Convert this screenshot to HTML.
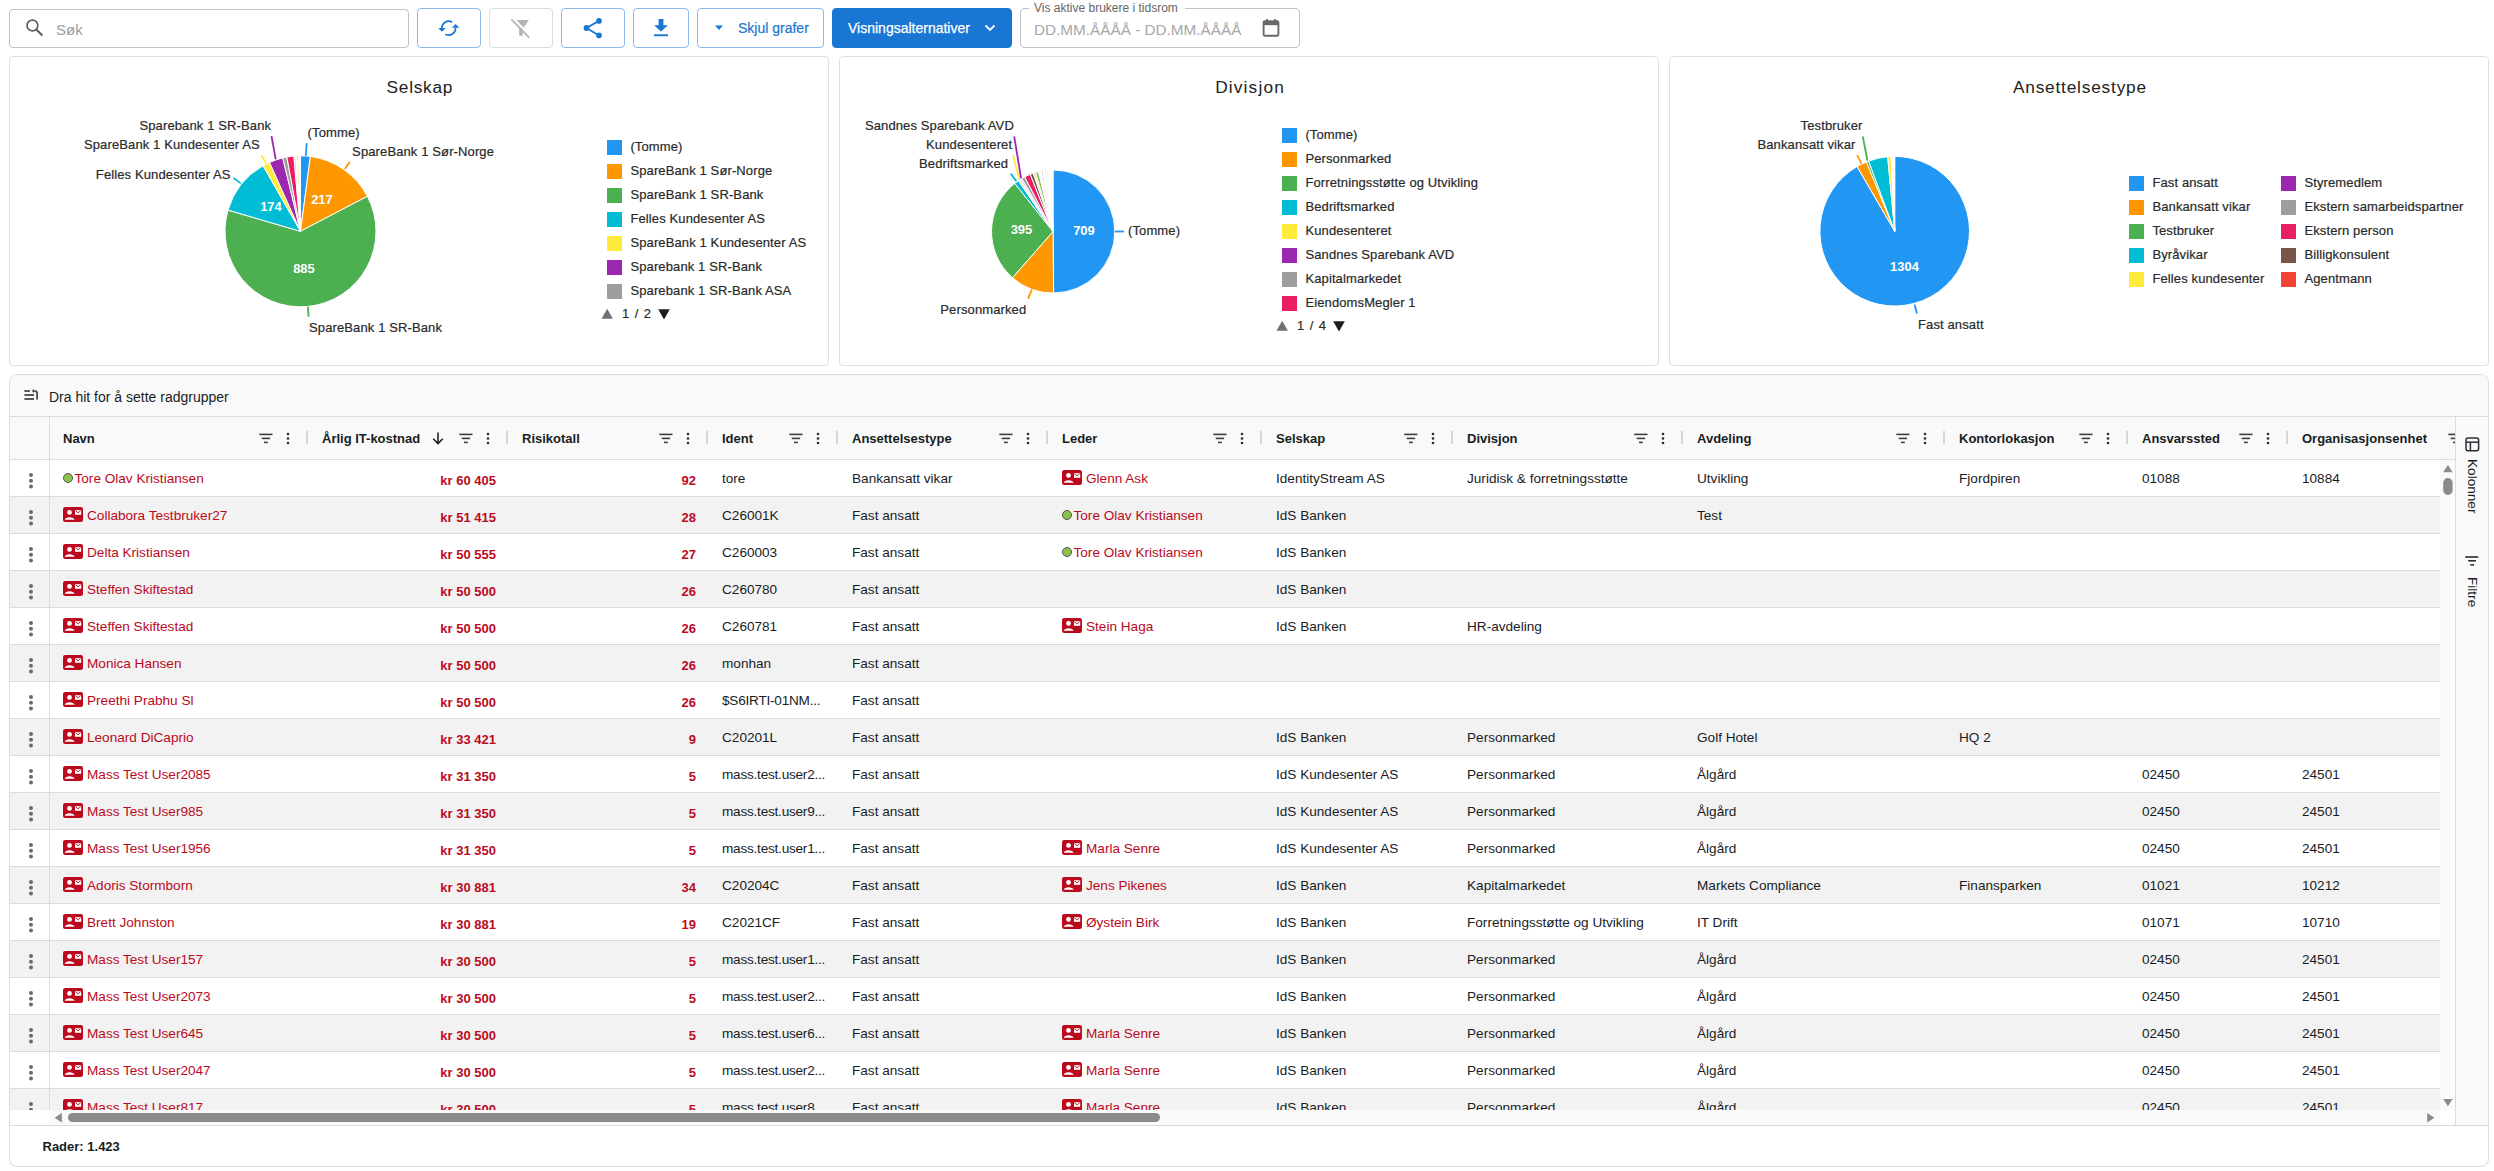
<!DOCTYPE html><html><head><meta charset="utf-8"><title>Brukere</title><style>
*{box-sizing:border-box}
html,body{margin:0;padding:0}
body{width:2494px;height:1171px;overflow:hidden;position:relative;background:#fff;font-family:"Liberation Sans", sans-serif;color:#1f1f1f}
.a{position:absolute}
.btn{position:absolute;top:8px;height:40px;border:1px solid #8cbae8;border-radius:4px;background:#fff}
.t{position:absolute;white-space:nowrap;line-height:1}
.card{position:absolute;top:56px;height:310px;width:820px;border:1px solid #e0e0e0;border-radius:4px;background:#fff}
.ct{position:absolute;white-space:nowrap;font-size:13px;letter-spacing:0.12px;color:#2a2a2a;line-height:1;-webkit-text-stroke:0.2px #2a2a2a}
.hd{position:absolute;top:417px;height:42px;line-height:43px;font-weight:bold;font-size:13px;color:#181d1f;white-space:nowrap}
.row{position:absolute;left:10px;width:2430px;height:37px;border-bottom:1px solid #dddddd}
.c{position:absolute;top:0;height:36px;line-height:37.2px;font-size:13.6px;white-space:nowrap;color:#181d1f}
.r{color:#bb0a1e}
.b{font-weight:bold;font-size:13px}
</style></head><body>
<div class="a" style="left:9px;top:9px;width:400px;height:39px;border:1px solid #c2c2c2;border-radius:4px"></div>
<svg class="a" style="left:24px;top:17px" width="22" height="22" viewBox="0 0 22 22"><circle cx="8.4" cy="8.5" r="5.4" fill="none" stroke="#5f5f5f" stroke-width="1.7"/><line x1="12.3" y1="12.4" x2="18.3" y2="18.4" stroke="#5f5f5f" stroke-width="2.1"/></svg>
<div class="t" style="left:56px;top:21.7px;font-size:15px;color:#9c9c9c">Søk</div>
<div class="btn" style="left:417px;width:64px"></div>
<svg class="a" style="left:437px;top:17px" width="24" height="22" viewBox="0 0 24 22">
<path d="M4.95 11.2 A6.75 6.75 0 0 1 15.1 5.2" fill="none" stroke="#1976d2" stroke-width="1.75"/>
<path d="M18.45 10.9 A6.75 6.75 0 0 1 8.3 17.2" fill="none" stroke="#1976d2" stroke-width="1.75"/>
<path d="M1.3 11.0 L8.6 11.0 L4.95 14.7 Z" fill="#1976d2"/>
<path d="M14.9 10.8 L22.4 10.8 L18.6 7.1 Z" fill="#1976d2"/>
</svg>
<div class="btn" style="left:489px;width:64px;border-color:#dcdcdc"></div>
<svg class="a" style="left:505px;top:14px" width="32" height="28" viewBox="0 0 32 28">
<path d="M11.2 6.1 L23.9 6.1 L18.7 13.4 Z" fill="#b5b5b5"/>
<path d="M14.1 13.2 L17.8 13.2 L17.8 20.7 Q17.8 21.7 16.8 21.7 L15.1 21.7 Q14.1 21.7 14.1 20.7 Z" fill="#b5b5b5"/>
<line x1="7.6" y1="4.3" x2="25.6" y2="22.8" stroke="#fff" stroke-width="1.6"/>
<line x1="6.3" y1="5.4" x2="24.2" y2="23.7" stroke="#b5b5b5" stroke-width="1.9"/>
</svg>
<div class="btn" style="left:561px;width:64px"></div>
<svg class="a" style="left:581px;top:16px" width="24" height="24" viewBox="0 0 24 24">
<line x1="5.5" y1="12" x2="18" y2="4.9" stroke="#1976d2" stroke-width="1.8"/>
<line x1="5.5" y1="12" x2="18" y2="19.4" stroke="#1976d2" stroke-width="1.8"/>
<circle cx="18" cy="4.9" r="2.8" fill="#1976d2"/><circle cx="5.5" cy="12" r="2.9" fill="#1976d2"/><circle cx="18" cy="19.4" r="2.8" fill="#1976d2"/>
</svg>
<div class="btn" style="left:633px;width:56px"></div>
<svg class="a" style="left:651px;top:17px" width="20" height="22" viewBox="0 0 20 22">
<path d="M7.6 2 L12.4 2 L12.4 8.2 L16.9 8.2 L10 14.6 L3.1 8.2 L7.6 8.2 Z" fill="#1976d2"/>
<rect x="3" y="17.3" width="14" height="1.9" fill="#1976d2"/>
</svg>
<div class="btn" style="left:697px;width:127px"></div>
<svg class="a" style="left:714px;top:25px" width="10" height="6" viewBox="0 0 10 6"><path d="M1 0.5 L9 0.5 L5 5 Z" fill="#1976d2"/></svg>
<div class="t" style="left:738px;top:21px;font-size:14px;color:#1976d2;-webkit-text-stroke:0.2px #1976d2">Skjul grafer</div>
<div class="btn" style="left:832px;width:180px;background:#1976d2;border-color:#1976d2"></div>
<div class="t" style="left:848px;top:21px;font-size:14px;color:#fff;-webkit-text-stroke:0.25px #fff">Visningsalternativer</div>
<svg class="a" style="left:984px;top:24px" width="12" height="8" viewBox="0 0 12 8"><path d="M1.5 1.5 L6 6 L10.5 1.5" fill="none" stroke="#fff" stroke-width="1.8"/></svg>
<div class="a" style="left:1020px;top:8px;width:280px;height:40px;border:1px solid #c2c2c2;border-radius:4px"></div>
<div class="a" style="left:1029px;top:3px;width:156px;height:10px;background:#fff"></div>
<div class="t" style="left:1034px;top:2px;font-size:12px;color:#666">Vis aktive brukere i tidsrom</div>
<div class="t" style="left:1034px;top:22px;font-size:15.3px;color:#a8a8a8">DD.MM.ÅÅÅÅ - DD.MM.ÅÅÅÅ</div>
<svg class="a" style="left:1262px;top:18px" width="18" height="20" viewBox="0 0 18 20">
<rect x="1.6" y="3.2" width="14.8" height="14.6" rx="1.2" fill="none" stroke="#6a6a6a" stroke-width="1.9"/>
<rect x="1.6" y="3.2" width="14.8" height="4" fill="#6a6a6a"/>
<rect x="4" y="1" width="1.8" height="3" fill="#6a6a6a"/><rect x="12.2" y="1" width="1.8" height="3" fill="#6a6a6a"/>
</svg>
<div class="card" style="left:9px"></div>
<div class="card" style="left:839px"></div>
<div class="card" style="left:1669px"></div>
<div class="t" style="left:219.875px;width:400px;text-align:center;top:79.4px;font-size:17.3px;letter-spacing:0.75px;color:#222">Selskap</div>
<div class="t" style="left:1050.075px;width:400px;text-align:center;top:79.4px;font-size:17.3px;letter-spacing:1.15px;color:#222">Divisjon</div>
<div class="t" style="left:1879.9px;width:400px;text-align:center;top:79.4px;font-size:17.3px;letter-spacing:0.8px;color:#222">Ansettelsestype</div>
<svg class="a" style="left:0;top:0" width="2494" height="370" viewBox="0 0 2494 370"><path d="M300.50 231.30 L300.50 155.80 A75.5 75.5 0 0 1 310.35 156.45 Z" fill="#2196f3" stroke="#fff" stroke-width="1" stroke-linejoin="round"/><path d="M300.50 231.30 L310.35 156.45 A75.5 75.5 0 0 1 367.41 196.32 Z" fill="#ff9800" stroke="#fff" stroke-width="1" stroke-linejoin="round"/><path d="M300.50 231.30 L367.41 196.32 A75.5 75.5 0 1 1 228.03 210.11 Z" fill="#4caf50" stroke="#fff" stroke-width="1" stroke-linejoin="round"/><path d="M300.50 231.30 L228.03 210.11 A75.5 75.5 0 0 1 263.09 165.72 Z" fill="#00bcd4" stroke="#fff" stroke-width="1" stroke-linejoin="round"/><path d="M300.50 231.30 L263.09 165.72 A75.5 75.5 0 0 1 269.55 162.43 Z" fill="#ffeb3b" stroke="#fff" stroke-width="1" stroke-linejoin="round"/><path d="M300.50 231.30 L269.55 162.43 A75.5 75.5 0 0 1 282.75 157.92 Z" fill="#9c27b0" stroke="#fff" stroke-width="1" stroke-linejoin="round"/><path d="M300.50 231.30 L282.75 157.92 A75.5 75.5 0 0 1 286.87 157.04 Z" fill="#9e9e9e" stroke="#fff" stroke-width="1" stroke-linejoin="round"/><path d="M300.50 231.30 L286.87 157.04 A75.5 75.5 0 0 1 293.92 156.09 Z" fill="#e91e63" stroke="#fff" stroke-width="1" stroke-linejoin="round"/><path d="M300.50 231.30 L293.92 156.09 A75.5 75.5 0 0 1 295.63 155.96 Z" fill="#ef9a9a" stroke="#fff" stroke-width="1" stroke-linejoin="round"/><path d="M300.50 231.30 L295.63 155.96 A75.5 75.5 0 0 1 296.94 155.88 Z" fill="#ffffff" stroke="#fff" stroke-width="1" stroke-linejoin="round"/><path d="M300.50 231.30 L296.94 155.88 A75.5 75.5 0 0 1 298.52 155.83 Z" fill="#9ccc65" stroke="#fff" stroke-width="1" stroke-linejoin="round"/><path d="M300.50 231.30 L298.66 155.82 A75.5 75.5 0 0 1 300.50 155.80 Z" fill="#ffffff" stroke="#fff" stroke-width="1" stroke-linejoin="round"/><line x1="305.8" y1="155.7" x2="306.7" y2="143.1" stroke="#2196f3" stroke-width="1.8"/><line x1="344.9" y1="168.9" x2="349.7" y2="161.7" stroke="#ff9800" stroke-width="1.8"/><line x1="307.9" y1="306.6" x2="308.6" y2="316.8" stroke="#4caf50" stroke-width="1.8"/><line x1="240.8" y1="183.4" x2="233.6" y2="178" stroke="#00bcd4" stroke-width="1.8"/><line x1="266.1" y1="163.5" x2="261.3" y2="155.1" stroke="#ffeb3b" stroke-width="1.8"/><line x1="275.7" y1="159.3" x2="271.5" y2="136.2" stroke="#9c27b0" stroke-width="1.8"/><text x="322" y="204" text-anchor="middle" font-family="Liberation Sans" font-weight="bold" font-size="13" fill="#fff" stroke="rgba(0,0,0,0.08)" stroke-width="0.6" paint-order="stroke">217</text><text x="271" y="211" text-anchor="middle" font-family="Liberation Sans" font-weight="bold" font-size="13" fill="#fff" stroke="rgba(0,0,0,0.08)" stroke-width="0.6" paint-order="stroke">174</text><text x="304" y="273" text-anchor="middle" font-family="Liberation Sans" font-weight="bold" font-size="13" fill="#fff" stroke="rgba(0,0,0,0.08)" stroke-width="0.6" paint-order="stroke">885</text><path d="M1053.00 231.50 L1053.00 170.00 A61.5 61.5 0 0 1 1053.64 293.00 Z" fill="#2196f3" stroke="#fff" stroke-width="1" stroke-linejoin="round"/><path d="M1053.00 231.50 L1053.64 293.00 A61.5 61.5 0 0 1 1012.41 277.70 Z" fill="#ff9800" stroke="#fff" stroke-width="1" stroke-linejoin="round"/><path d="M1053.00 231.50 L1012.41 277.70 A61.5 61.5 0 0 1 1014.72 183.37 Z" fill="#4caf50" stroke="#fff" stroke-width="1" stroke-linejoin="round"/><path d="M1053.00 231.50 L1014.72 183.37 A61.5 61.5 0 0 1 1018.43 180.63 Z" fill="#00bcd4" stroke="#fff" stroke-width="1" stroke-linejoin="round"/><path d="M1053.00 231.50 L1018.43 180.63 A61.5 61.5 0 0 1 1019.41 179.98 Z" fill="#ffeb3b" stroke="#fff" stroke-width="1" stroke-linejoin="round"/><path d="M1053.00 231.50 L1019.41 179.98 A61.5 61.5 0 0 1 1020.32 179.40 Z" fill="#9c27b0" stroke="#fff" stroke-width="1" stroke-linejoin="round"/><path d="M1053.00 231.50 L1020.32 179.40 A61.5 61.5 0 0 1 1021.79 178.51 Z" fill="#e1bee7" stroke="#fff" stroke-width="1" stroke-linejoin="round"/><path d="M1053.00 231.50 L1021.79 178.51 A61.5 61.5 0 0 1 1024.70 176.90 Z" fill="#9e9e9e" stroke="#fff" stroke-width="1" stroke-linejoin="round"/><path d="M1053.00 231.50 L1024.70 176.90 A61.5 61.5 0 0 1 1030.26 174.36 Z" fill="#e91e63" stroke="#fff" stroke-width="1" stroke-linejoin="round"/><path d="M1053.00 231.50 L1030.26 174.36 A61.5 61.5 0 0 1 1033.28 173.25 Z" fill="#795548" stroke="#fff" stroke-width="1" stroke-linejoin="round"/><path d="M1053.00 231.50 L1033.28 173.25 A61.5 61.5 0 0 1 1035.53 172.53 Z" fill="#f8d0cc" stroke="#fff" stroke-width="1" stroke-linejoin="round"/><path d="M1053.00 231.50 L1035.53 172.53 A61.5 61.5 0 0 1 1038.54 171.72 Z" fill="#8bc34a" stroke="#fff" stroke-width="1" stroke-linejoin="round"/><path d="M1053.00 231.50 L1038.54 171.72 A61.5 61.5 0 0 1 1041.27 171.13 Z" fill="#ffffff" stroke="#fff" stroke-width="1" stroke-linejoin="round"/><path d="M1053.00 231.50 L1041.27 171.13 A61.5 61.5 0 0 1 1042.96 170.83 Z" fill="#c4c4c4" stroke="#fff" stroke-width="1" stroke-linejoin="round"/><path d="M1053.00 231.50 L1042.96 170.83 A61.5 61.5 0 0 1 1044.87 170.54 Z" fill="#ffffff" stroke="#fff" stroke-width="1" stroke-linejoin="round"/><path d="M1053.00 231.50 L1044.87 170.54 A61.5 61.5 0 0 1 1045.93 170.41 Z" fill="#4db6ac" stroke="#fff" stroke-width="1" stroke-linejoin="round"/><path d="M1053.00 231.50 L1045.93 170.41 A61.5 61.5 0 0 1 1046.79 170.31 Z" fill="#ffffff" stroke="#fff" stroke-width="1" stroke-linejoin="round"/><path d="M1053.00 231.50 L1046.79 170.31 A61.5 61.5 0 0 1 1047.85 170.22 Z" fill="#e57373" stroke="#fff" stroke-width="1" stroke-linejoin="round"/><path d="M1053.00 231.50 L1047.85 170.22 A61.5 61.5 0 0 1 1049.78 170.08 Z" fill="#ffffff" stroke="#fff" stroke-width="1" stroke-linejoin="round"/><path d="M1053.00 231.50 L1049.78 170.08 A61.5 61.5 0 0 1 1050.85 170.04 Z" fill="#ffe0b2" stroke="#fff" stroke-width="1" stroke-linejoin="round"/><path d="M1053.00 231.50 L1050.85 170.04 A61.5 61.5 0 0 1 1053.00 170.00 Z" fill="#ffffff" stroke="#fff" stroke-width="1" stroke-linejoin="round"/><line x1="1115" y1="231.5" x2="1124" y2="231.5" stroke="#2196f3" stroke-width="1.8"/><line x1="1031.9" y1="289.7" x2="1028.1" y2="298.7" stroke="#ff9800" stroke-width="1.8"/><line x1="1016.3" y1="181.1" x2="1010.7" y2="173.6" stroke="#00bcd4" stroke-width="1.8"/><line x1="1019.4" y1="179.1" x2="1012.9" y2="155.2" stroke="#ffeb3b" stroke-width="1.8"/><line x1="1021.1" y1="178.4" x2="1014.2" y2="136.4" stroke="#9c27b0" stroke-width="1.8"/><text x="1084" y="235" text-anchor="middle" font-family="Liberation Sans" font-weight="bold" font-size="13" fill="#fff" stroke="rgba(0,0,0,0.08)" stroke-width="0.6" paint-order="stroke">709</text><text x="1021.5" y="234" text-anchor="middle" font-family="Liberation Sans" font-weight="bold" font-size="13" fill="#fff" stroke="rgba(0,0,0,0.08)" stroke-width="0.6" paint-order="stroke">395</text><path d="M1894.70 231.20 L1894.70 156.40 A74.8 74.8 0 1 1 1857.07 166.55 Z" fill="#2196f3" stroke="#fff" stroke-width="1" stroke-linejoin="round"/><path d="M1894.70 231.20 L1857.07 166.55 A74.8 74.8 0 0 1 1866.44 161.94 Z" fill="#ff9800" stroke="#fff" stroke-width="1" stroke-linejoin="round"/><path d="M1894.70 231.20 L1866.44 161.94 A74.8 74.8 0 0 1 1868.63 161.09 Z" fill="#4caf50" stroke="#fff" stroke-width="1" stroke-linejoin="round"/><path d="M1894.70 231.20 L1868.63 161.09 A74.8 74.8 0 0 1 1887.66 156.73 Z" fill="#00bcd4" stroke="#fff" stroke-width="1" stroke-linejoin="round"/><path d="M1894.70 231.20 L1887.66 156.73 A74.8 74.8 0 0 1 1891.05 156.49 Z" fill="#ffeb3b" stroke="#fff" stroke-width="1" stroke-linejoin="round"/><path d="M1894.70 231.20 L1891.05 156.49 A74.8 74.8 0 0 1 1892.61 156.43 Z" fill="#ffffff" stroke="#fff" stroke-width="1" stroke-linejoin="round"/><path d="M1894.70 231.20 L1892.61 156.43 A74.8 74.8 0 0 1 1893.66 156.41 Z" fill="#d7ccc8" stroke="#fff" stroke-width="1" stroke-linejoin="round"/><path d="M1894.70 231.20 L1893.66 156.41 A74.8 74.8 0 0 1 1894.70 156.40 Z" fill="#ffffff" stroke="#fff" stroke-width="1" stroke-linejoin="round"/><line x1="1914.6" y1="304.5" x2="1916.9" y2="313.5" stroke="#2196f3" stroke-width="1.8"/><line x1="1861.5" y1="163.7" x2="1857.2" y2="155.2" stroke="#ff9800" stroke-width="1.8"/><line x1="1867.4" y1="160.6" x2="1862.8" y2="136.5" stroke="#4caf50" stroke-width="1.8"/><text x="1904.5" y="271" text-anchor="middle" font-family="Liberation Sans" font-weight="bold" font-size="13" fill="#fff" stroke="rgba(0,0,0,0.08)" stroke-width="0.6" paint-order="stroke">1304</text></svg>
<div class="ct" style="left:307.6px;top:125.7px">(Tomme)</div>
<div class="ct" style="left:352.1px;top:144.7px">SpareBank 1 Sør-Norge</div>
<div class="ct" style="left:309px;top:320.5px">SpareBank 1 SR-Bank</div>
<div class="ct" style="left:1128px;top:224.0px">(Tomme)</div>
<div class="ct" style="left:1918px;top:317.5px">Fast ansatt</div>
<div class="ct" style="right:2222.9px;top:118.8px">Sparebank 1 SR-Bank</div>
<div class="ct" style="right:2234.2px;top:137.7px">SpareBank 1 Kundesenter AS</div>
<div class="ct" style="right:2263.4px;top:167.6px">Felles Kundesenter AS</div>
<div class="ct" style="right:1480.1px;top:118.5px">Sandnes Sparebank AVD</div>
<div class="ct" style="right:1481.8px;top:137.5px">Kundesenteret</div>
<div class="ct" style="right:1485.9px;top:156.5px">Bedriftsmarked</div>
<div class="ct" style="right:1467.7px;top:302.5px">Personmarked</div>
<div class="ct" style="right:631.5px;top:118.5px">Testbruker</div>
<div class="ct" style="right:638.5px;top:137.5px">Bankansatt vikar</div>
<div class="a" style="left:607px;top:140px;width:15px;height:15px;background:#2196f3"></div><div class="ct" style="left:630.4px;top:139.6px">(Tomme)</div><div class="a" style="left:607px;top:164px;width:15px;height:15px;background:#ff9800"></div><div class="ct" style="left:630.4px;top:163.6px">SpareBank 1 Sør-Norge</div><div class="a" style="left:607px;top:188px;width:15px;height:15px;background:#4caf50"></div><div class="ct" style="left:630.4px;top:187.6px">SpareBank 1 SR-Bank</div><div class="a" style="left:607px;top:212px;width:15px;height:15px;background:#00bcd4"></div><div class="ct" style="left:630.4px;top:211.6px">Felles Kundesenter AS</div><div class="a" style="left:607px;top:236px;width:15px;height:15px;background:#ffeb3b"></div><div class="ct" style="left:630.4px;top:235.6px">SpareBank 1 Kundesenter AS</div><div class="a" style="left:607px;top:260px;width:15px;height:15px;background:#9c27b0"></div><div class="ct" style="left:630.4px;top:259.6px">Sparebank 1 SR-Bank</div><div class="a" style="left:607px;top:284px;width:15px;height:15px;background:#9e9e9e"></div><div class="ct" style="left:630.4px;top:283.6px">Sparebank 1 SR-Bank ASA</div>
<div class="a" style="left:1282px;top:128px;width:15px;height:15px;background:#2196f3"></div><div class="ct" style="left:1305.4px;top:127.6px">(Tomme)</div><div class="a" style="left:1282px;top:152px;width:15px;height:15px;background:#ff9800"></div><div class="ct" style="left:1305.4px;top:151.6px">Personmarked</div><div class="a" style="left:1282px;top:176px;width:15px;height:15px;background:#4caf50"></div><div class="ct" style="left:1305.4px;top:175.6px">Forretningsstøtte og Utvikling</div><div class="a" style="left:1282px;top:200px;width:15px;height:15px;background:#00bcd4"></div><div class="ct" style="left:1305.4px;top:199.6px">Bedriftsmarked</div><div class="a" style="left:1282px;top:224px;width:15px;height:15px;background:#ffeb3b"></div><div class="ct" style="left:1305.4px;top:223.6px">Kundesenteret</div><div class="a" style="left:1282px;top:248px;width:15px;height:15px;background:#9c27b0"></div><div class="ct" style="left:1305.4px;top:247.6px">Sandnes Sparebank AVD</div><div class="a" style="left:1282px;top:272px;width:15px;height:15px;background:#9e9e9e"></div><div class="ct" style="left:1305.4px;top:271.6px">Kapitalmarkedet</div><div class="a" style="left:1282px;top:296px;width:15px;height:15px;background:#e91e63"></div><div class="ct" style="left:1305.4px;top:295.6px">EiendomsMegler 1</div>
<div class="a" style="left:2129px;top:176px;width:15px;height:15px;background:#2196f3"></div><div class="ct" style="left:2152.4px;top:175.6px">Fast ansatt</div><div class="a" style="left:2129px;top:200px;width:15px;height:15px;background:#ff9800"></div><div class="ct" style="left:2152.4px;top:199.6px">Bankansatt vikar</div><div class="a" style="left:2129px;top:224px;width:15px;height:15px;background:#4caf50"></div><div class="ct" style="left:2152.4px;top:223.6px">Testbruker</div><div class="a" style="left:2129px;top:248px;width:15px;height:15px;background:#00bcd4"></div><div class="ct" style="left:2152.4px;top:247.6px">Byråvikar</div><div class="a" style="left:2129px;top:272px;width:15px;height:15px;background:#ffeb3b"></div><div class="ct" style="left:2152.4px;top:271.6px">Felles kundesenter</div>
<div class="a" style="left:2281px;top:176px;width:15px;height:15px;background:#9c27b0"></div><div class="ct" style="left:2304.4px;top:175.6px">Styremedlem</div><div class="a" style="left:2281px;top:200px;width:15px;height:15px;background:#9e9e9e"></div><div class="ct" style="left:2304.4px;top:199.6px">Ekstern samarbeidspartner</div><div class="a" style="left:2281px;top:224px;width:15px;height:15px;background:#e91e63"></div><div class="ct" style="left:2304.4px;top:223.6px">Ekstern person</div><div class="a" style="left:2281px;top:248px;width:15px;height:15px;background:#795548"></div><div class="ct" style="left:2304.4px;top:247.6px">Billigkonsulent</div><div class="a" style="left:2281px;top:272px;width:15px;height:15px;background:#f44336"></div><div class="ct" style="left:2304.4px;top:271.6px">Agentmann</div>
<svg class="a" style="left:600.5px;top:307.5px" width="70" height="12" viewBox="0 0 70 12"><path d="M0.5 10.8 L6.2 0.8 L11.9 10.8 Z" fill="#6e7175"/><path d="M57.2 1.2 L68.8 1.2 L63 11.4 Z" fill="#1b1e21"/></svg><div class="ct" style="left:622.0px;top:306.7px;word-spacing:1.6px">1 / 2</div>
<svg class="a" style="left:1275.5px;top:319.5px" width="70" height="12" viewBox="0 0 70 12"><path d="M0.5 10.8 L6.2 0.8 L11.9 10.8 Z" fill="#6e7175"/><path d="M57.2 1.2 L68.8 1.2 L63 11.4 Z" fill="#1b1e21"/></svg><div class="ct" style="left:1297.0px;top:318.7px;word-spacing:1.6px">1 / 4</div>
<div class="a" style="left:9px;top:374px;width:2480px;height:793px;border:1px solid #dcdcdc;border-radius:8px;background:#fff;overflow:hidden"><div class="a" style="left:0;top:0;width:100%;height:42px;background:#f9f9f9;border-bottom:1px solid #dcdcdc"></div><div class="a" style="left:0;top:42px;width:100%;height:43px;background:#f9f9f9;border-bottom:1px solid #dcdcdc"></div></div>
<svg class="a" style="left:23px;top:387px" width="18" height="15" viewBox="0 0 18 15">
<rect x="1.4" y="3.15" width="5.5" height="1.7" fill="#3b3f42"/><rect x="1.4" y="7.15" width="9.6" height="1.7" fill="#3b3f42"/><rect x="1.4" y="11.15" width="9.6" height="1.7" fill="#3b3f42"/>
<path d="M14.1 12.6 L14.1 6.2 Q14.1 4 11.9 4 L10.6 4" fill="none" stroke="#3b3f42" stroke-width="1.7"/><path d="M8.9 4 L11.0 1.9 L11.0 6.1 Z" fill="#3b3f42"/>
</svg>
<div class="t" style="left:49px;top:389.6px;font-size:14px;color:#181d1f">Dra hit for å sette radgrupper</div>
<div class="a" style="left:0;top:0;width:2455px;height:1171px;overflow:hidden;clip-path:inset(0 0 0 0)"><div class="hd" style="left:63px">Navn</div><svg class="a" style="left:259px;top:433px" width="14" height="11" viewBox="0 0 14 11"><rect x="0.3" y="0.6" width="13.2" height="1.6" fill="#3a3f44"/><rect x="2.7" y="4.6" width="8.4" height="1.6" fill="#3a3f44"/><rect x="5" y="8.6" width="3.8" height="1.6" fill="#3a3f44"/></svg><svg class="a" style="left:286px;top:432px" width="4" height="13" viewBox="0 0 4 13"><circle cx="2" cy="2" r="1.3" fill="#2a2e33"/><circle cx="2" cy="6.5" r="1.3" fill="#2a2e33"/><circle cx="2" cy="11" r="1.3" fill="#2a2e33"/></svg><div class="a" style="left:306px;top:431px;width:2px;height:13px;background:#d6d6d6"></div><div class="hd" style="left:322px">Årlig IT-kostnad</div><svg class="a" style="left:459px;top:433px" width="14" height="11" viewBox="0 0 14 11"><rect x="0.3" y="0.6" width="13.2" height="1.6" fill="#3a3f44"/><rect x="2.7" y="4.6" width="8.4" height="1.6" fill="#3a3f44"/><rect x="5" y="8.6" width="3.8" height="1.6" fill="#3a3f44"/></svg><svg class="a" style="left:486px;top:432px" width="4" height="13" viewBox="0 0 4 13"><circle cx="2" cy="2" r="1.3" fill="#2a2e33"/><circle cx="2" cy="6.5" r="1.3" fill="#2a2e33"/><circle cx="2" cy="11" r="1.3" fill="#2a2e33"/></svg><div class="a" style="left:506px;top:431px;width:2px;height:13px;background:#d6d6d6"></div><div class="hd" style="left:522px">Risikotall</div><svg class="a" style="left:659px;top:433px" width="14" height="11" viewBox="0 0 14 11"><rect x="0.3" y="0.6" width="13.2" height="1.6" fill="#3a3f44"/><rect x="2.7" y="4.6" width="8.4" height="1.6" fill="#3a3f44"/><rect x="5" y="8.6" width="3.8" height="1.6" fill="#3a3f44"/></svg><svg class="a" style="left:686px;top:432px" width="4" height="13" viewBox="0 0 4 13"><circle cx="2" cy="2" r="1.3" fill="#2a2e33"/><circle cx="2" cy="6.5" r="1.3" fill="#2a2e33"/><circle cx="2" cy="11" r="1.3" fill="#2a2e33"/></svg><div class="a" style="left:706px;top:431px;width:2px;height:13px;background:#d6d6d6"></div><div class="hd" style="left:722px">Ident</div><svg class="a" style="left:789px;top:433px" width="14" height="11" viewBox="0 0 14 11"><rect x="0.3" y="0.6" width="13.2" height="1.6" fill="#3a3f44"/><rect x="2.7" y="4.6" width="8.4" height="1.6" fill="#3a3f44"/><rect x="5" y="8.6" width="3.8" height="1.6" fill="#3a3f44"/></svg><svg class="a" style="left:816px;top:432px" width="4" height="13" viewBox="0 0 4 13"><circle cx="2" cy="2" r="1.3" fill="#2a2e33"/><circle cx="2" cy="6.5" r="1.3" fill="#2a2e33"/><circle cx="2" cy="11" r="1.3" fill="#2a2e33"/></svg><div class="a" style="left:836px;top:431px;width:2px;height:13px;background:#d6d6d6"></div><div class="hd" style="left:852px">Ansettelsestype</div><svg class="a" style="left:999px;top:433px" width="14" height="11" viewBox="0 0 14 11"><rect x="0.3" y="0.6" width="13.2" height="1.6" fill="#3a3f44"/><rect x="2.7" y="4.6" width="8.4" height="1.6" fill="#3a3f44"/><rect x="5" y="8.6" width="3.8" height="1.6" fill="#3a3f44"/></svg><svg class="a" style="left:1026px;top:432px" width="4" height="13" viewBox="0 0 4 13"><circle cx="2" cy="2" r="1.3" fill="#2a2e33"/><circle cx="2" cy="6.5" r="1.3" fill="#2a2e33"/><circle cx="2" cy="11" r="1.3" fill="#2a2e33"/></svg><div class="a" style="left:1046px;top:431px;width:2px;height:13px;background:#d6d6d6"></div><div class="hd" style="left:1062px">Leder</div><svg class="a" style="left:1213px;top:433px" width="14" height="11" viewBox="0 0 14 11"><rect x="0.3" y="0.6" width="13.2" height="1.6" fill="#3a3f44"/><rect x="2.7" y="4.6" width="8.4" height="1.6" fill="#3a3f44"/><rect x="5" y="8.6" width="3.8" height="1.6" fill="#3a3f44"/></svg><svg class="a" style="left:1240px;top:432px" width="4" height="13" viewBox="0 0 4 13"><circle cx="2" cy="2" r="1.3" fill="#2a2e33"/><circle cx="2" cy="6.5" r="1.3" fill="#2a2e33"/><circle cx="2" cy="11" r="1.3" fill="#2a2e33"/></svg><div class="a" style="left:1260px;top:431px;width:2px;height:13px;background:#d6d6d6"></div><div class="hd" style="left:1276px">Selskap</div><svg class="a" style="left:1404px;top:433px" width="14" height="11" viewBox="0 0 14 11"><rect x="0.3" y="0.6" width="13.2" height="1.6" fill="#3a3f44"/><rect x="2.7" y="4.6" width="8.4" height="1.6" fill="#3a3f44"/><rect x="5" y="8.6" width="3.8" height="1.6" fill="#3a3f44"/></svg><svg class="a" style="left:1431px;top:432px" width="4" height="13" viewBox="0 0 4 13"><circle cx="2" cy="2" r="1.3" fill="#2a2e33"/><circle cx="2" cy="6.5" r="1.3" fill="#2a2e33"/><circle cx="2" cy="11" r="1.3" fill="#2a2e33"/></svg><div class="a" style="left:1451px;top:431px;width:2px;height:13px;background:#d6d6d6"></div><div class="hd" style="left:1467px">Divisjon</div><svg class="a" style="left:1634px;top:433px" width="14" height="11" viewBox="0 0 14 11"><rect x="0.3" y="0.6" width="13.2" height="1.6" fill="#3a3f44"/><rect x="2.7" y="4.6" width="8.4" height="1.6" fill="#3a3f44"/><rect x="5" y="8.6" width="3.8" height="1.6" fill="#3a3f44"/></svg><svg class="a" style="left:1661px;top:432px" width="4" height="13" viewBox="0 0 4 13"><circle cx="2" cy="2" r="1.3" fill="#2a2e33"/><circle cx="2" cy="6.5" r="1.3" fill="#2a2e33"/><circle cx="2" cy="11" r="1.3" fill="#2a2e33"/></svg><div class="a" style="left:1681px;top:431px;width:2px;height:13px;background:#d6d6d6"></div><div class="hd" style="left:1697px">Avdeling</div><svg class="a" style="left:1896px;top:433px" width="14" height="11" viewBox="0 0 14 11"><rect x="0.3" y="0.6" width="13.2" height="1.6" fill="#3a3f44"/><rect x="2.7" y="4.6" width="8.4" height="1.6" fill="#3a3f44"/><rect x="5" y="8.6" width="3.8" height="1.6" fill="#3a3f44"/></svg><svg class="a" style="left:1923px;top:432px" width="4" height="13" viewBox="0 0 4 13"><circle cx="2" cy="2" r="1.3" fill="#2a2e33"/><circle cx="2" cy="6.5" r="1.3" fill="#2a2e33"/><circle cx="2" cy="11" r="1.3" fill="#2a2e33"/></svg><div class="a" style="left:1943px;top:431px;width:2px;height:13px;background:#d6d6d6"></div><div class="hd" style="left:1959px">Kontorlokasjon</div><svg class="a" style="left:2079px;top:433px" width="14" height="11" viewBox="0 0 14 11"><rect x="0.3" y="0.6" width="13.2" height="1.6" fill="#3a3f44"/><rect x="2.7" y="4.6" width="8.4" height="1.6" fill="#3a3f44"/><rect x="5" y="8.6" width="3.8" height="1.6" fill="#3a3f44"/></svg><svg class="a" style="left:2106px;top:432px" width="4" height="13" viewBox="0 0 4 13"><circle cx="2" cy="2" r="1.3" fill="#2a2e33"/><circle cx="2" cy="6.5" r="1.3" fill="#2a2e33"/><circle cx="2" cy="11" r="1.3" fill="#2a2e33"/></svg><div class="a" style="left:2126px;top:431px;width:2px;height:13px;background:#d6d6d6"></div><div class="hd" style="left:2142px">Ansvarssted</div><svg class="a" style="left:2239px;top:433px" width="14" height="11" viewBox="0 0 14 11"><rect x="0.3" y="0.6" width="13.2" height="1.6" fill="#3a3f44"/><rect x="2.7" y="4.6" width="8.4" height="1.6" fill="#3a3f44"/><rect x="5" y="8.6" width="3.8" height="1.6" fill="#3a3f44"/></svg><svg class="a" style="left:2266px;top:432px" width="4" height="13" viewBox="0 0 4 13"><circle cx="2" cy="2" r="1.3" fill="#2a2e33"/><circle cx="2" cy="6.5" r="1.3" fill="#2a2e33"/><circle cx="2" cy="11" r="1.3" fill="#2a2e33"/></svg><div class="a" style="left:2286px;top:431px;width:2px;height:13px;background:#d6d6d6"></div><div class="hd" style="left:2302px">Organisasjonsenhet</div><svg class="a" style="left:2448px;top:433px" width="14" height="11" viewBox="0 0 14 11"><rect x="0.3" y="0.6" width="13.2" height="1.6" fill="#3a3f44"/><rect x="2.7" y="4.6" width="8.4" height="1.6" fill="#3a3f44"/><rect x="5" y="8.6" width="3.8" height="1.6" fill="#3a3f44"/></svg><svg class="a" style="left:432px;top:432px" width="12" height="13" viewBox="0 0 12 13"><path d="M6 0.5 L6 11.5 M1.2 6.8 L6 11.6 L10.8 6.8" fill="none" stroke="#181d1f" stroke-width="1.5"/></svg></div>
<div class="a" style="left:0;top:460px;width:2440px;height:650px;overflow:hidden"><div class="a" style="left:10px;top:0px;width:2430px;height:37px;background:#fff;border-bottom:1px solid #dcdcdc"></div><svg class="a" style="left:28px;top:12px" width="6" height="18" viewBox="0 0 6 18"><circle cx="3" cy="3" r="2" fill="#6b6b6b"/><circle cx="3" cy="8.8" r="2" fill="#6b6b6b"/><circle cx="3" cy="14.6" r="2" fill="#6b6b6b"/></svg><div class="a" style="left:63px;top:13px;width:10px;height:10px;border-radius:50%;background:#8bc34a;border:1px solid #555"></div><div class="c r" style="left:74.5px;top:0px">Tore Olav Kristiansen</div><div class="c r b" style="left:307px;width:189px;text-align:right;top:1.6px">kr 60 405</div><div class="c r b" style="left:507px;width:189px;text-align:right;top:1.6px">92</div><div class="c" style="left:722px;top:0px">tore</div><div class="c" style="left:852px;top:0px">Bankansatt vikar</div><svg class="a" style="left:1062px;top:9.8px" width="20" height="15" viewBox="0 0 20 15"><rect x="0" y="0" width="20" height="15" rx="2.2" fill="#bb0a1e"/><circle cx="6.5" cy="5.4" r="2.4" fill="#fff"/><path d="M1.7 12.8 C2.2 9.4 10.8 9.4 11.7 12.8 Z" fill="#fff"/><rect x="12" y="3.2" width="6.2" height="4.6" fill="#fff"/><path d="M12.6 3.8 L15.1 5.8 L17.6 3.8" fill="none" stroke="#bb0a1e" stroke-width="0.9"/></svg><div class="c r" style="left:1086px;top:0px">Glenn Ask</div><div class="c" style="left:1276px;top:0px">IdentityStream AS</div><div class="c" style="left:1467px;top:0px">Juridisk &amp; forretningsstøtte</div><div class="c" style="left:1697px;top:0px">Utvikling</div><div class="c" style="left:1959px;top:0px">Fjordpiren</div><div class="c" style="left:2142px;top:0px">01088</div><div class="c" style="left:2302px;top:0px">10884</div><div class="a" style="left:10px;top:37px;width:2430px;height:37px;background:#f2f2f2;border-bottom:1px solid #dcdcdc"></div><svg class="a" style="left:28px;top:49px" width="6" height="18" viewBox="0 0 6 18"><circle cx="3" cy="3" r="2" fill="#6b6b6b"/><circle cx="3" cy="8.8" r="2" fill="#6b6b6b"/><circle cx="3" cy="14.6" r="2" fill="#6b6b6b"/></svg><svg class="a" style="left:63px;top:46.8px" width="20" height="15" viewBox="0 0 20 15"><rect x="0" y="0" width="20" height="15" rx="2.2" fill="#bb0a1e"/><circle cx="6.5" cy="5.4" r="2.4" fill="#fff"/><path d="M1.7 12.8 C2.2 9.4 10.8 9.4 11.7 12.8 Z" fill="#fff"/><rect x="12" y="3.2" width="6.2" height="4.6" fill="#fff"/><path d="M12.6 3.8 L15.1 5.8 L17.6 3.8" fill="none" stroke="#bb0a1e" stroke-width="0.9"/></svg><div class="c r" style="left:87px;top:37px">Collabora Testbruker27</div><div class="c r b" style="left:307px;width:189px;text-align:right;top:38.6px">kr 51 415</div><div class="c r b" style="left:507px;width:189px;text-align:right;top:38.6px">28</div><div class="c" style="left:722px;top:37px">C26001K</div><div class="c" style="left:852px;top:37px">Fast ansatt</div><div class="a" style="left:1062px;top:50px;width:10px;height:10px;border-radius:50%;background:#8bc34a;border:1px solid #555"></div><div class="c r" style="left:1073.5px;top:37px">Tore Olav Kristiansen</div><div class="c" style="left:1276px;top:37px">IdS Banken</div><div class="c" style="left:1697px;top:37px">Test</div><div class="a" style="left:10px;top:74px;width:2430px;height:37px;background:#fff;border-bottom:1px solid #dcdcdc"></div><svg class="a" style="left:28px;top:86px" width="6" height="18" viewBox="0 0 6 18"><circle cx="3" cy="3" r="2" fill="#6b6b6b"/><circle cx="3" cy="8.8" r="2" fill="#6b6b6b"/><circle cx="3" cy="14.6" r="2" fill="#6b6b6b"/></svg><svg class="a" style="left:63px;top:83.8px" width="20" height="15" viewBox="0 0 20 15"><rect x="0" y="0" width="20" height="15" rx="2.2" fill="#bb0a1e"/><circle cx="6.5" cy="5.4" r="2.4" fill="#fff"/><path d="M1.7 12.8 C2.2 9.4 10.8 9.4 11.7 12.8 Z" fill="#fff"/><rect x="12" y="3.2" width="6.2" height="4.6" fill="#fff"/><path d="M12.6 3.8 L15.1 5.8 L17.6 3.8" fill="none" stroke="#bb0a1e" stroke-width="0.9"/></svg><div class="c r" style="left:87px;top:74px">Delta Kristiansen</div><div class="c r b" style="left:307px;width:189px;text-align:right;top:75.6px">kr 50 555</div><div class="c r b" style="left:507px;width:189px;text-align:right;top:75.6px">27</div><div class="c" style="left:722px;top:74px">C260003</div><div class="c" style="left:852px;top:74px">Fast ansatt</div><div class="a" style="left:1062px;top:87px;width:10px;height:10px;border-radius:50%;background:#8bc34a;border:1px solid #555"></div><div class="c r" style="left:1073.5px;top:74px">Tore Olav Kristiansen</div><div class="c" style="left:1276px;top:74px">IdS Banken</div><div class="a" style="left:10px;top:111px;width:2430px;height:37px;background:#f2f2f2;border-bottom:1px solid #dcdcdc"></div><svg class="a" style="left:28px;top:123px" width="6" height="18" viewBox="0 0 6 18"><circle cx="3" cy="3" r="2" fill="#6b6b6b"/><circle cx="3" cy="8.8" r="2" fill="#6b6b6b"/><circle cx="3" cy="14.6" r="2" fill="#6b6b6b"/></svg><svg class="a" style="left:63px;top:120.8px" width="20" height="15" viewBox="0 0 20 15"><rect x="0" y="0" width="20" height="15" rx="2.2" fill="#bb0a1e"/><circle cx="6.5" cy="5.4" r="2.4" fill="#fff"/><path d="M1.7 12.8 C2.2 9.4 10.8 9.4 11.7 12.8 Z" fill="#fff"/><rect x="12" y="3.2" width="6.2" height="4.6" fill="#fff"/><path d="M12.6 3.8 L15.1 5.8 L17.6 3.8" fill="none" stroke="#bb0a1e" stroke-width="0.9"/></svg><div class="c r" style="left:87px;top:111px">Steffen Skiftestad</div><div class="c r b" style="left:307px;width:189px;text-align:right;top:112.6px">kr 50 500</div><div class="c r b" style="left:507px;width:189px;text-align:right;top:112.6px">26</div><div class="c" style="left:722px;top:111px">C260780</div><div class="c" style="left:852px;top:111px">Fast ansatt</div><div class="c" style="left:1276px;top:111px">IdS Banken</div><div class="a" style="left:10px;top:148px;width:2430px;height:37px;background:#fff;border-bottom:1px solid #dcdcdc"></div><svg class="a" style="left:28px;top:160px" width="6" height="18" viewBox="0 0 6 18"><circle cx="3" cy="3" r="2" fill="#6b6b6b"/><circle cx="3" cy="8.8" r="2" fill="#6b6b6b"/><circle cx="3" cy="14.6" r="2" fill="#6b6b6b"/></svg><svg class="a" style="left:63px;top:157.8px" width="20" height="15" viewBox="0 0 20 15"><rect x="0" y="0" width="20" height="15" rx="2.2" fill="#bb0a1e"/><circle cx="6.5" cy="5.4" r="2.4" fill="#fff"/><path d="M1.7 12.8 C2.2 9.4 10.8 9.4 11.7 12.8 Z" fill="#fff"/><rect x="12" y="3.2" width="6.2" height="4.6" fill="#fff"/><path d="M12.6 3.8 L15.1 5.8 L17.6 3.8" fill="none" stroke="#bb0a1e" stroke-width="0.9"/></svg><div class="c r" style="left:87px;top:148px">Steffen Skiftestad</div><div class="c r b" style="left:307px;width:189px;text-align:right;top:149.6px">kr 50 500</div><div class="c r b" style="left:507px;width:189px;text-align:right;top:149.6px">26</div><div class="c" style="left:722px;top:148px">C260781</div><div class="c" style="left:852px;top:148px">Fast ansatt</div><svg class="a" style="left:1062px;top:157.8px" width="20" height="15" viewBox="0 0 20 15"><rect x="0" y="0" width="20" height="15" rx="2.2" fill="#bb0a1e"/><circle cx="6.5" cy="5.4" r="2.4" fill="#fff"/><path d="M1.7 12.8 C2.2 9.4 10.8 9.4 11.7 12.8 Z" fill="#fff"/><rect x="12" y="3.2" width="6.2" height="4.6" fill="#fff"/><path d="M12.6 3.8 L15.1 5.8 L17.6 3.8" fill="none" stroke="#bb0a1e" stroke-width="0.9"/></svg><div class="c r" style="left:1086px;top:148px">Stein Haga</div><div class="c" style="left:1276px;top:148px">IdS Banken</div><div class="c" style="left:1467px;top:148px">HR-avdeling</div><div class="a" style="left:10px;top:185px;width:2430px;height:37px;background:#f2f2f2;border-bottom:1px solid #dcdcdc"></div><svg class="a" style="left:28px;top:197px" width="6" height="18" viewBox="0 0 6 18"><circle cx="3" cy="3" r="2" fill="#6b6b6b"/><circle cx="3" cy="8.8" r="2" fill="#6b6b6b"/><circle cx="3" cy="14.6" r="2" fill="#6b6b6b"/></svg><svg class="a" style="left:63px;top:194.8px" width="20" height="15" viewBox="0 0 20 15"><rect x="0" y="0" width="20" height="15" rx="2.2" fill="#bb0a1e"/><circle cx="6.5" cy="5.4" r="2.4" fill="#fff"/><path d="M1.7 12.8 C2.2 9.4 10.8 9.4 11.7 12.8 Z" fill="#fff"/><rect x="12" y="3.2" width="6.2" height="4.6" fill="#fff"/><path d="M12.6 3.8 L15.1 5.8 L17.6 3.8" fill="none" stroke="#bb0a1e" stroke-width="0.9"/></svg><div class="c r" style="left:87px;top:185px">Monica Hansen</div><div class="c r b" style="left:307px;width:189px;text-align:right;top:186.6px">kr 50 500</div><div class="c r b" style="left:507px;width:189px;text-align:right;top:186.6px">26</div><div class="c" style="left:722px;top:185px">monhan</div><div class="c" style="left:852px;top:185px">Fast ansatt</div><div class="a" style="left:10px;top:222px;width:2430px;height:37px;background:#fff;border-bottom:1px solid #dcdcdc"></div><svg class="a" style="left:28px;top:234px" width="6" height="18" viewBox="0 0 6 18"><circle cx="3" cy="3" r="2" fill="#6b6b6b"/><circle cx="3" cy="8.8" r="2" fill="#6b6b6b"/><circle cx="3" cy="14.6" r="2" fill="#6b6b6b"/></svg><svg class="a" style="left:63px;top:231.8px" width="20" height="15" viewBox="0 0 20 15"><rect x="0" y="0" width="20" height="15" rx="2.2" fill="#bb0a1e"/><circle cx="6.5" cy="5.4" r="2.4" fill="#fff"/><path d="M1.7 12.8 C2.2 9.4 10.8 9.4 11.7 12.8 Z" fill="#fff"/><rect x="12" y="3.2" width="6.2" height="4.6" fill="#fff"/><path d="M12.6 3.8 L15.1 5.8 L17.6 3.8" fill="none" stroke="#bb0a1e" stroke-width="0.9"/></svg><div class="c r" style="left:87px;top:222px">Preethi Prabhu Sl</div><div class="c r b" style="left:307px;width:189px;text-align:right;top:223.6px">kr 50 500</div><div class="c r b" style="left:507px;width:189px;text-align:right;top:223.6px">26</div><div class="c" style="left:722px;top:222px;letter-spacing:-0.23px">$S6IRTI-01NM...</div><div class="c" style="left:852px;top:222px">Fast ansatt</div><div class="a" style="left:10px;top:259px;width:2430px;height:37px;background:#f2f2f2;border-bottom:1px solid #dcdcdc"></div><svg class="a" style="left:28px;top:271px" width="6" height="18" viewBox="0 0 6 18"><circle cx="3" cy="3" r="2" fill="#6b6b6b"/><circle cx="3" cy="8.8" r="2" fill="#6b6b6b"/><circle cx="3" cy="14.6" r="2" fill="#6b6b6b"/></svg><svg class="a" style="left:63px;top:268.8px" width="20" height="15" viewBox="0 0 20 15"><rect x="0" y="0" width="20" height="15" rx="2.2" fill="#bb0a1e"/><circle cx="6.5" cy="5.4" r="2.4" fill="#fff"/><path d="M1.7 12.8 C2.2 9.4 10.8 9.4 11.7 12.8 Z" fill="#fff"/><rect x="12" y="3.2" width="6.2" height="4.6" fill="#fff"/><path d="M12.6 3.8 L15.1 5.8 L17.6 3.8" fill="none" stroke="#bb0a1e" stroke-width="0.9"/></svg><div class="c r" style="left:87px;top:259px">Leonard DiCaprio</div><div class="c r b" style="left:307px;width:189px;text-align:right;top:260.6px">kr 33 421</div><div class="c r b" style="left:507px;width:189px;text-align:right;top:260.6px">9</div><div class="c" style="left:722px;top:259px">C20201L</div><div class="c" style="left:852px;top:259px">Fast ansatt</div><div class="c" style="left:1276px;top:259px">IdS Banken</div><div class="c" style="left:1467px;top:259px">Personmarked</div><div class="c" style="left:1697px;top:259px">Golf Hotel</div><div class="c" style="left:1959px;top:259px">HQ 2</div><div class="a" style="left:10px;top:296px;width:2430px;height:37px;background:#fff;border-bottom:1px solid #dcdcdc"></div><svg class="a" style="left:28px;top:308px" width="6" height="18" viewBox="0 0 6 18"><circle cx="3" cy="3" r="2" fill="#6b6b6b"/><circle cx="3" cy="8.8" r="2" fill="#6b6b6b"/><circle cx="3" cy="14.6" r="2" fill="#6b6b6b"/></svg><svg class="a" style="left:63px;top:305.8px" width="20" height="15" viewBox="0 0 20 15"><rect x="0" y="0" width="20" height="15" rx="2.2" fill="#bb0a1e"/><circle cx="6.5" cy="5.4" r="2.4" fill="#fff"/><path d="M1.7 12.8 C2.2 9.4 10.8 9.4 11.7 12.8 Z" fill="#fff"/><rect x="12" y="3.2" width="6.2" height="4.6" fill="#fff"/><path d="M12.6 3.8 L15.1 5.8 L17.6 3.8" fill="none" stroke="#bb0a1e" stroke-width="0.9"/></svg><div class="c r" style="left:87px;top:296px">Mass Test User2085</div><div class="c r b" style="left:307px;width:189px;text-align:right;top:297.6px">kr 31 350</div><div class="c r b" style="left:507px;width:189px;text-align:right;top:297.6px">5</div><div class="c" style="left:722px;top:296px;letter-spacing:-0.23px">mass.test.user2...</div><div class="c" style="left:852px;top:296px">Fast ansatt</div><div class="c" style="left:1276px;top:296px">IdS Kundesenter AS</div><div class="c" style="left:1467px;top:296px">Personmarked</div><div class="c" style="left:1697px;top:296px">Ålgård</div><div class="c" style="left:2142px;top:296px">02450</div><div class="c" style="left:2302px;top:296px">24501</div><div class="a" style="left:10px;top:333px;width:2430px;height:37px;background:#f2f2f2;border-bottom:1px solid #dcdcdc"></div><svg class="a" style="left:28px;top:345px" width="6" height="18" viewBox="0 0 6 18"><circle cx="3" cy="3" r="2" fill="#6b6b6b"/><circle cx="3" cy="8.8" r="2" fill="#6b6b6b"/><circle cx="3" cy="14.6" r="2" fill="#6b6b6b"/></svg><svg class="a" style="left:63px;top:342.8px" width="20" height="15" viewBox="0 0 20 15"><rect x="0" y="0" width="20" height="15" rx="2.2" fill="#bb0a1e"/><circle cx="6.5" cy="5.4" r="2.4" fill="#fff"/><path d="M1.7 12.8 C2.2 9.4 10.8 9.4 11.7 12.8 Z" fill="#fff"/><rect x="12" y="3.2" width="6.2" height="4.6" fill="#fff"/><path d="M12.6 3.8 L15.1 5.8 L17.6 3.8" fill="none" stroke="#bb0a1e" stroke-width="0.9"/></svg><div class="c r" style="left:87px;top:333px">Mass Test User985</div><div class="c r b" style="left:307px;width:189px;text-align:right;top:334.6px">kr 31 350</div><div class="c r b" style="left:507px;width:189px;text-align:right;top:334.6px">5</div><div class="c" style="left:722px;top:333px;letter-spacing:-0.23px">mass.test.user9...</div><div class="c" style="left:852px;top:333px">Fast ansatt</div><div class="c" style="left:1276px;top:333px">IdS Kundesenter AS</div><div class="c" style="left:1467px;top:333px">Personmarked</div><div class="c" style="left:1697px;top:333px">Ålgård</div><div class="c" style="left:2142px;top:333px">02450</div><div class="c" style="left:2302px;top:333px">24501</div><div class="a" style="left:10px;top:370px;width:2430px;height:37px;background:#fff;border-bottom:1px solid #dcdcdc"></div><svg class="a" style="left:28px;top:382px" width="6" height="18" viewBox="0 0 6 18"><circle cx="3" cy="3" r="2" fill="#6b6b6b"/><circle cx="3" cy="8.8" r="2" fill="#6b6b6b"/><circle cx="3" cy="14.6" r="2" fill="#6b6b6b"/></svg><svg class="a" style="left:63px;top:379.8px" width="20" height="15" viewBox="0 0 20 15"><rect x="0" y="0" width="20" height="15" rx="2.2" fill="#bb0a1e"/><circle cx="6.5" cy="5.4" r="2.4" fill="#fff"/><path d="M1.7 12.8 C2.2 9.4 10.8 9.4 11.7 12.8 Z" fill="#fff"/><rect x="12" y="3.2" width="6.2" height="4.6" fill="#fff"/><path d="M12.6 3.8 L15.1 5.8 L17.6 3.8" fill="none" stroke="#bb0a1e" stroke-width="0.9"/></svg><div class="c r" style="left:87px;top:370px">Mass Test User1956</div><div class="c r b" style="left:307px;width:189px;text-align:right;top:371.6px">kr 31 350</div><div class="c r b" style="left:507px;width:189px;text-align:right;top:371.6px">5</div><div class="c" style="left:722px;top:370px;letter-spacing:-0.23px">mass.test.user1...</div><div class="c" style="left:852px;top:370px">Fast ansatt</div><svg class="a" style="left:1062px;top:379.8px" width="20" height="15" viewBox="0 0 20 15"><rect x="0" y="0" width="20" height="15" rx="2.2" fill="#bb0a1e"/><circle cx="6.5" cy="5.4" r="2.4" fill="#fff"/><path d="M1.7 12.8 C2.2 9.4 10.8 9.4 11.7 12.8 Z" fill="#fff"/><rect x="12" y="3.2" width="6.2" height="4.6" fill="#fff"/><path d="M12.6 3.8 L15.1 5.8 L17.6 3.8" fill="none" stroke="#bb0a1e" stroke-width="0.9"/></svg><div class="c r" style="left:1086px;top:370px">Marla Senre</div><div class="c" style="left:1276px;top:370px">IdS Kundesenter AS</div><div class="c" style="left:1467px;top:370px">Personmarked</div><div class="c" style="left:1697px;top:370px">Ålgård</div><div class="c" style="left:2142px;top:370px">02450</div><div class="c" style="left:2302px;top:370px">24501</div><div class="a" style="left:10px;top:407px;width:2430px;height:37px;background:#f2f2f2;border-bottom:1px solid #dcdcdc"></div><svg class="a" style="left:28px;top:419px" width="6" height="18" viewBox="0 0 6 18"><circle cx="3" cy="3" r="2" fill="#6b6b6b"/><circle cx="3" cy="8.8" r="2" fill="#6b6b6b"/><circle cx="3" cy="14.6" r="2" fill="#6b6b6b"/></svg><svg class="a" style="left:63px;top:416.8px" width="20" height="15" viewBox="0 0 20 15"><rect x="0" y="0" width="20" height="15" rx="2.2" fill="#bb0a1e"/><circle cx="6.5" cy="5.4" r="2.4" fill="#fff"/><path d="M1.7 12.8 C2.2 9.4 10.8 9.4 11.7 12.8 Z" fill="#fff"/><rect x="12" y="3.2" width="6.2" height="4.6" fill="#fff"/><path d="M12.6 3.8 L15.1 5.8 L17.6 3.8" fill="none" stroke="#bb0a1e" stroke-width="0.9"/></svg><div class="c r" style="left:87px;top:407px">Adoris Stormborn</div><div class="c r b" style="left:307px;width:189px;text-align:right;top:408.6px">kr 30 881</div><div class="c r b" style="left:507px;width:189px;text-align:right;top:408.6px">34</div><div class="c" style="left:722px;top:407px">C20204C</div><div class="c" style="left:852px;top:407px">Fast ansatt</div><svg class="a" style="left:1062px;top:416.8px" width="20" height="15" viewBox="0 0 20 15"><rect x="0" y="0" width="20" height="15" rx="2.2" fill="#bb0a1e"/><circle cx="6.5" cy="5.4" r="2.4" fill="#fff"/><path d="M1.7 12.8 C2.2 9.4 10.8 9.4 11.7 12.8 Z" fill="#fff"/><rect x="12" y="3.2" width="6.2" height="4.6" fill="#fff"/><path d="M12.6 3.8 L15.1 5.8 L17.6 3.8" fill="none" stroke="#bb0a1e" stroke-width="0.9"/></svg><div class="c r" style="left:1086px;top:407px">Jens Pikenes</div><div class="c" style="left:1276px;top:407px">IdS Banken</div><div class="c" style="left:1467px;top:407px">Kapitalmarkedet</div><div class="c" style="left:1697px;top:407px">Markets Compliance</div><div class="c" style="left:1959px;top:407px">Finansparken</div><div class="c" style="left:2142px;top:407px">01021</div><div class="c" style="left:2302px;top:407px">10212</div><div class="a" style="left:10px;top:444px;width:2430px;height:37px;background:#fff;border-bottom:1px solid #dcdcdc"></div><svg class="a" style="left:28px;top:456px" width="6" height="18" viewBox="0 0 6 18"><circle cx="3" cy="3" r="2" fill="#6b6b6b"/><circle cx="3" cy="8.8" r="2" fill="#6b6b6b"/><circle cx="3" cy="14.6" r="2" fill="#6b6b6b"/></svg><svg class="a" style="left:63px;top:453.8px" width="20" height="15" viewBox="0 0 20 15"><rect x="0" y="0" width="20" height="15" rx="2.2" fill="#bb0a1e"/><circle cx="6.5" cy="5.4" r="2.4" fill="#fff"/><path d="M1.7 12.8 C2.2 9.4 10.8 9.4 11.7 12.8 Z" fill="#fff"/><rect x="12" y="3.2" width="6.2" height="4.6" fill="#fff"/><path d="M12.6 3.8 L15.1 5.8 L17.6 3.8" fill="none" stroke="#bb0a1e" stroke-width="0.9"/></svg><div class="c r" style="left:87px;top:444px">Brett Johnston</div><div class="c r b" style="left:307px;width:189px;text-align:right;top:445.6px">kr 30 881</div><div class="c r b" style="left:507px;width:189px;text-align:right;top:445.6px">19</div><div class="c" style="left:722px;top:444px">C2021CF</div><div class="c" style="left:852px;top:444px">Fast ansatt</div><svg class="a" style="left:1062px;top:453.8px" width="20" height="15" viewBox="0 0 20 15"><rect x="0" y="0" width="20" height="15" rx="2.2" fill="#bb0a1e"/><circle cx="6.5" cy="5.4" r="2.4" fill="#fff"/><path d="M1.7 12.8 C2.2 9.4 10.8 9.4 11.7 12.8 Z" fill="#fff"/><rect x="12" y="3.2" width="6.2" height="4.6" fill="#fff"/><path d="M12.6 3.8 L15.1 5.8 L17.6 3.8" fill="none" stroke="#bb0a1e" stroke-width="0.9"/></svg><div class="c r" style="left:1086px;top:444px">Øystein Birk</div><div class="c" style="left:1276px;top:444px">IdS Banken</div><div class="c" style="left:1467px;top:444px">Forretningsstøtte og Utvikling</div><div class="c" style="left:1697px;top:444px">IT Drift</div><div class="c" style="left:2142px;top:444px">01071</div><div class="c" style="left:2302px;top:444px">10710</div><div class="a" style="left:10px;top:481px;width:2430px;height:37px;background:#f2f2f2;border-bottom:1px solid #dcdcdc"></div><svg class="a" style="left:28px;top:493px" width="6" height="18" viewBox="0 0 6 18"><circle cx="3" cy="3" r="2" fill="#6b6b6b"/><circle cx="3" cy="8.8" r="2" fill="#6b6b6b"/><circle cx="3" cy="14.6" r="2" fill="#6b6b6b"/></svg><svg class="a" style="left:63px;top:490.8px" width="20" height="15" viewBox="0 0 20 15"><rect x="0" y="0" width="20" height="15" rx="2.2" fill="#bb0a1e"/><circle cx="6.5" cy="5.4" r="2.4" fill="#fff"/><path d="M1.7 12.8 C2.2 9.4 10.8 9.4 11.7 12.8 Z" fill="#fff"/><rect x="12" y="3.2" width="6.2" height="4.6" fill="#fff"/><path d="M12.6 3.8 L15.1 5.8 L17.6 3.8" fill="none" stroke="#bb0a1e" stroke-width="0.9"/></svg><div class="c r" style="left:87px;top:481px">Mass Test User157</div><div class="c r b" style="left:307px;width:189px;text-align:right;top:482.6px">kr 30 500</div><div class="c r b" style="left:507px;width:189px;text-align:right;top:482.6px">5</div><div class="c" style="left:722px;top:481px;letter-spacing:-0.23px">mass.test.user1...</div><div class="c" style="left:852px;top:481px">Fast ansatt</div><div class="c" style="left:1276px;top:481px">IdS Banken</div><div class="c" style="left:1467px;top:481px">Personmarked</div><div class="c" style="left:1697px;top:481px">Ålgård</div><div class="c" style="left:2142px;top:481px">02450</div><div class="c" style="left:2302px;top:481px">24501</div><div class="a" style="left:10px;top:518px;width:2430px;height:37px;background:#fff;border-bottom:1px solid #dcdcdc"></div><svg class="a" style="left:28px;top:530px" width="6" height="18" viewBox="0 0 6 18"><circle cx="3" cy="3" r="2" fill="#6b6b6b"/><circle cx="3" cy="8.8" r="2" fill="#6b6b6b"/><circle cx="3" cy="14.6" r="2" fill="#6b6b6b"/></svg><svg class="a" style="left:63px;top:527.8px" width="20" height="15" viewBox="0 0 20 15"><rect x="0" y="0" width="20" height="15" rx="2.2" fill="#bb0a1e"/><circle cx="6.5" cy="5.4" r="2.4" fill="#fff"/><path d="M1.7 12.8 C2.2 9.4 10.8 9.4 11.7 12.8 Z" fill="#fff"/><rect x="12" y="3.2" width="6.2" height="4.6" fill="#fff"/><path d="M12.6 3.8 L15.1 5.8 L17.6 3.8" fill="none" stroke="#bb0a1e" stroke-width="0.9"/></svg><div class="c r" style="left:87px;top:518px">Mass Test User2073</div><div class="c r b" style="left:307px;width:189px;text-align:right;top:519.6px">kr 30 500</div><div class="c r b" style="left:507px;width:189px;text-align:right;top:519.6px">5</div><div class="c" style="left:722px;top:518px;letter-spacing:-0.23px">mass.test.user2...</div><div class="c" style="left:852px;top:518px">Fast ansatt</div><div class="c" style="left:1276px;top:518px">IdS Banken</div><div class="c" style="left:1467px;top:518px">Personmarked</div><div class="c" style="left:1697px;top:518px">Ålgård</div><div class="c" style="left:2142px;top:518px">02450</div><div class="c" style="left:2302px;top:518px">24501</div><div class="a" style="left:10px;top:555px;width:2430px;height:37px;background:#f2f2f2;border-bottom:1px solid #dcdcdc"></div><svg class="a" style="left:28px;top:567px" width="6" height="18" viewBox="0 0 6 18"><circle cx="3" cy="3" r="2" fill="#6b6b6b"/><circle cx="3" cy="8.8" r="2" fill="#6b6b6b"/><circle cx="3" cy="14.6" r="2" fill="#6b6b6b"/></svg><svg class="a" style="left:63px;top:564.8px" width="20" height="15" viewBox="0 0 20 15"><rect x="0" y="0" width="20" height="15" rx="2.2" fill="#bb0a1e"/><circle cx="6.5" cy="5.4" r="2.4" fill="#fff"/><path d="M1.7 12.8 C2.2 9.4 10.8 9.4 11.7 12.8 Z" fill="#fff"/><rect x="12" y="3.2" width="6.2" height="4.6" fill="#fff"/><path d="M12.6 3.8 L15.1 5.8 L17.6 3.8" fill="none" stroke="#bb0a1e" stroke-width="0.9"/></svg><div class="c r" style="left:87px;top:555px">Mass Test User645</div><div class="c r b" style="left:307px;width:189px;text-align:right;top:556.6px">kr 30 500</div><div class="c r b" style="left:507px;width:189px;text-align:right;top:556.6px">5</div><div class="c" style="left:722px;top:555px;letter-spacing:-0.23px">mass.test.user6...</div><div class="c" style="left:852px;top:555px">Fast ansatt</div><svg class="a" style="left:1062px;top:564.8px" width="20" height="15" viewBox="0 0 20 15"><rect x="0" y="0" width="20" height="15" rx="2.2" fill="#bb0a1e"/><circle cx="6.5" cy="5.4" r="2.4" fill="#fff"/><path d="M1.7 12.8 C2.2 9.4 10.8 9.4 11.7 12.8 Z" fill="#fff"/><rect x="12" y="3.2" width="6.2" height="4.6" fill="#fff"/><path d="M12.6 3.8 L15.1 5.8 L17.6 3.8" fill="none" stroke="#bb0a1e" stroke-width="0.9"/></svg><div class="c r" style="left:1086px;top:555px">Marla Senre</div><div class="c" style="left:1276px;top:555px">IdS Banken</div><div class="c" style="left:1467px;top:555px">Personmarked</div><div class="c" style="left:1697px;top:555px">Ålgård</div><div class="c" style="left:2142px;top:555px">02450</div><div class="c" style="left:2302px;top:555px">24501</div><div class="a" style="left:10px;top:592px;width:2430px;height:37px;background:#fff;border-bottom:1px solid #dcdcdc"></div><svg class="a" style="left:28px;top:604px" width="6" height="18" viewBox="0 0 6 18"><circle cx="3" cy="3" r="2" fill="#6b6b6b"/><circle cx="3" cy="8.8" r="2" fill="#6b6b6b"/><circle cx="3" cy="14.6" r="2" fill="#6b6b6b"/></svg><svg class="a" style="left:63px;top:601.8px" width="20" height="15" viewBox="0 0 20 15"><rect x="0" y="0" width="20" height="15" rx="2.2" fill="#bb0a1e"/><circle cx="6.5" cy="5.4" r="2.4" fill="#fff"/><path d="M1.7 12.8 C2.2 9.4 10.8 9.4 11.7 12.8 Z" fill="#fff"/><rect x="12" y="3.2" width="6.2" height="4.6" fill="#fff"/><path d="M12.6 3.8 L15.1 5.8 L17.6 3.8" fill="none" stroke="#bb0a1e" stroke-width="0.9"/></svg><div class="c r" style="left:87px;top:592px">Mass Test User2047</div><div class="c r b" style="left:307px;width:189px;text-align:right;top:593.6px">kr 30 500</div><div class="c r b" style="left:507px;width:189px;text-align:right;top:593.6px">5</div><div class="c" style="left:722px;top:592px;letter-spacing:-0.23px">mass.test.user2...</div><div class="c" style="left:852px;top:592px">Fast ansatt</div><svg class="a" style="left:1062px;top:601.8px" width="20" height="15" viewBox="0 0 20 15"><rect x="0" y="0" width="20" height="15" rx="2.2" fill="#bb0a1e"/><circle cx="6.5" cy="5.4" r="2.4" fill="#fff"/><path d="M1.7 12.8 C2.2 9.4 10.8 9.4 11.7 12.8 Z" fill="#fff"/><rect x="12" y="3.2" width="6.2" height="4.6" fill="#fff"/><path d="M12.6 3.8 L15.1 5.8 L17.6 3.8" fill="none" stroke="#bb0a1e" stroke-width="0.9"/></svg><div class="c r" style="left:1086px;top:592px">Marla Senre</div><div class="c" style="left:1276px;top:592px">IdS Banken</div><div class="c" style="left:1467px;top:592px">Personmarked</div><div class="c" style="left:1697px;top:592px">Ålgård</div><div class="c" style="left:2142px;top:592px">02450</div><div class="c" style="left:2302px;top:592px">24501</div><div class="a" style="left:10px;top:629px;width:2430px;height:37px;background:#f2f2f2;border-bottom:1px solid #dcdcdc"></div><svg class="a" style="left:28px;top:641px" width="6" height="18" viewBox="0 0 6 18"><circle cx="3" cy="3" r="2" fill="#6b6b6b"/><circle cx="3" cy="8.8" r="2" fill="#6b6b6b"/><circle cx="3" cy="14.6" r="2" fill="#6b6b6b"/></svg><svg class="a" style="left:63px;top:638.8px" width="20" height="15" viewBox="0 0 20 15"><rect x="0" y="0" width="20" height="15" rx="2.2" fill="#bb0a1e"/><circle cx="6.5" cy="5.4" r="2.4" fill="#fff"/><path d="M1.7 12.8 C2.2 9.4 10.8 9.4 11.7 12.8 Z" fill="#fff"/><rect x="12" y="3.2" width="6.2" height="4.6" fill="#fff"/><path d="M12.6 3.8 L15.1 5.8 L17.6 3.8" fill="none" stroke="#bb0a1e" stroke-width="0.9"/></svg><div class="c r" style="left:87px;top:629px">Mass Test User817</div><div class="c r b" style="left:307px;width:189px;text-align:right;top:630.6px">kr 30 500</div><div class="c r b" style="left:507px;width:189px;text-align:right;top:630.6px">5</div><div class="c" style="left:722px;top:629px;letter-spacing:-0.23px">mass.test.user8...</div><div class="c" style="left:852px;top:629px">Fast ansatt</div><svg class="a" style="left:1062px;top:638.8px" width="20" height="15" viewBox="0 0 20 15"><rect x="0" y="0" width="20" height="15" rx="2.2" fill="#bb0a1e"/><circle cx="6.5" cy="5.4" r="2.4" fill="#fff"/><path d="M1.7 12.8 C2.2 9.4 10.8 9.4 11.7 12.8 Z" fill="#fff"/><rect x="12" y="3.2" width="6.2" height="4.6" fill="#fff"/><path d="M12.6 3.8 L15.1 5.8 L17.6 3.8" fill="none" stroke="#bb0a1e" stroke-width="0.9"/></svg><div class="c r" style="left:1086px;top:629px">Marla Senre</div><div class="c" style="left:1276px;top:629px">IdS Banken</div><div class="c" style="left:1467px;top:629px">Personmarked</div><div class="c" style="left:1697px;top:629px">Ålgård</div><div class="c" style="left:2142px;top:629px">02450</div><div class="c" style="left:2302px;top:629px">24501</div></div>
<div class="a" style="left:49px;top:417px;width:1px;height:708px;background:#dcdcdc"></div>
<div class="a" style="left:2440px;top:460px;width:15px;height:650px;background:#fafafa"></div>
<svg class="a" style="left:2442px;top:463px" width="12" height="34" viewBox="0 0 12 34"><path d="M1.2 9.2 L5.9 2 L10.6 9.2 Z" fill="#8a8a8a"/><rect x="1.2" y="15" width="9.4" height="17" rx="4.7" fill="#8a8a8a"/></svg>
<svg class="a" style="left:2442px;top:1097px" width="12" height="10" viewBox="0 0 12 10"><path d="M1.2 2 L10.6 2 L5.9 9.2 Z" fill="#8a8a8a"/></svg>
<div class="a" style="left:49px;top:1110px;width:2391px;height:15px;background:#fafafa"></div>
<div class="a" style="left:10px;top:1110px;width:38px;height:15px;background:#fff"></div>
<svg class="a" style="left:53px;top:1112px" width="10" height="12" viewBox="0 0 10 12"><path d="M8.8 1 L8.8 10.4 L1.6 5.7 Z" fill="#8a8a8a"/></svg>
<div class="a" style="left:68px;top:1113px;width:1092px;height:9px;border-radius:4.5px;background:#8a8a8a"></div>
<svg class="a" style="left:2426px;top:1112px" width="10" height="12" viewBox="0 0 10 12"><path d="M1.2 1 L1.2 10.4 L8.4 5.7 Z" fill="#8a8a8a"/></svg>
<div class="a" style="left:10px;top:1125px;width:2478px;height:1px;background:#dcdcdc"></div>
<div class="a" style="left:2455px;top:416px;width:1px;height:710px;background:#dcdcdc"></div>
<div class="a" style="left:2456px;top:417px;width:32px;height:708px;background:#fafafa"></div>
<svg class="a" style="left:2465px;top:437px" width="15" height="15" viewBox="0 0 15 15"><rect x="1" y="1" width="12.6" height="12.8" rx="2" fill="none" stroke="#2a2e33" stroke-width="1.5"/><line x1="1" y1="5.2" x2="13.6" y2="5.2" stroke="#2a2e33" stroke-width="1.5"/><line x1="5.4" y1="5.2" x2="5.4" y2="13.8" stroke="#2a2e33" stroke-width="1.5"/></svg>
<div class="t" style="left:2478.5px;top:458.5px;font-size:13.6px;color:#181d1f;transform-origin:0 0;transform:rotate(90deg)">Kolonner</div>
<svg class="a" style="left:2464px;top:555px" width="16" height="12" viewBox="0 0 16 12"><rect x="1.2" y="1.2" width="13.1" height="1.6" fill="#2a2e33"/><rect x="4.2" y="5.0" width="7.7" height="1.6" fill="#2a2e33"/><rect x="6.3" y="9.0" width="3.7" height="1.6" fill="#2a2e33"/></svg>
<div class="t" style="left:2478.5px;top:576.5px;font-size:13.6px;color:#181d1f;transform-origin:0 0;transform:rotate(90deg)">Filtre</div>
<div class="t" style="left:42.5px;top:1140px;font-size:13px;font-weight:bold;color:#181d1f">Rader: 1.423</div>
</body></html>
